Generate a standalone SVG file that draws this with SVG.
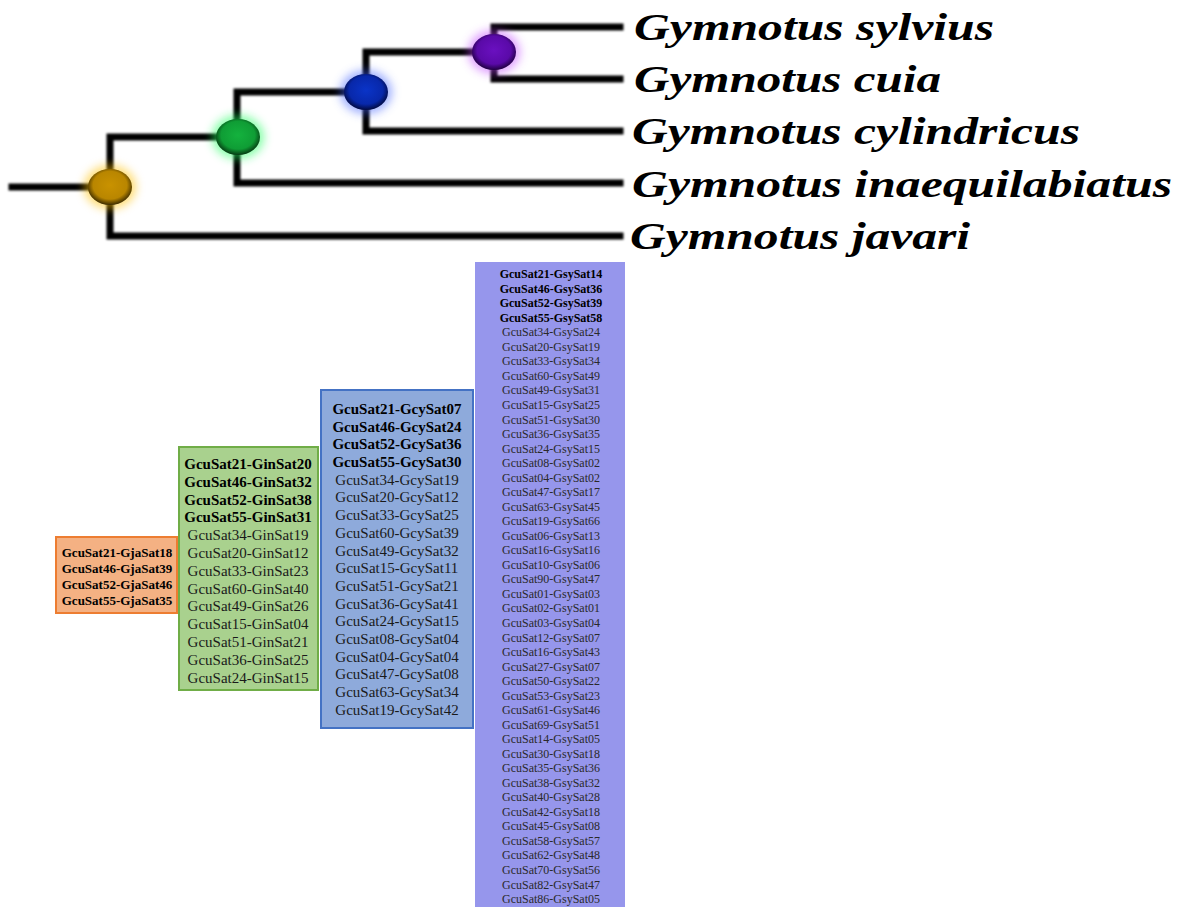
<svg xmlns="http://www.w3.org/2000/svg" width="1184" height="907" viewBox="0 0 1184 907">
<style>
.br{fill:none;stroke:#000;stroke-width:7;stroke-linecap:square;stroke-linejoin:miter}
.sp{font-family:"Liberation Serif","Times New Roman",serif;font-weight:bold;font-style:italic;font-size:37px;fill:#000}
.t{font-family:"Liberation Serif","Times New Roman",serif;text-anchor:middle;fill:#1a1a1a}
.b{font-weight:bold;fill:#000}
.o{font-size:13px}
.g{font-size:15px}
.p{font-size:12px;fill:#2a2a2a}
.p.b{fill:#000}
</style>
<defs>
<filter id="glow" x="-60%" y="-60%" width="220%" height="220%"><feGaussianBlur stdDeviation="5"/></filter>
<filter id="soft" x="-20%" y="-20%" width="140%" height="140%"><feGaussianBlur stdDeviation="0.8"/></filter>
<radialGradient id="gO" cx="50%" cy="45%" r="55%"><stop offset="0" stop-color="#c99200"/><stop offset="0.7" stop-color="#b98600"/><stop offset="1" stop-color="#3a2a00"/></radialGradient>
<radialGradient id="gG" cx="50%" cy="45%" r="55%"><stop offset="0" stop-color="#14b23e"/><stop offset="0.7" stop-color="#0f9d35"/><stop offset="1" stop-color="#053a12"/></radialGradient>
<radialGradient id="gB" cx="50%" cy="45%" r="55%"><stop offset="0" stop-color="#0a34c8"/><stop offset="0.7" stop-color="#0828aa"/><stop offset="1" stop-color="#020a40"/></radialGradient>
<radialGradient id="gP" cx="50%" cy="45%" r="55%"><stop offset="0" stop-color="#6a10c0"/><stop offset="0.7" stop-color="#5a0aa8"/><stop offset="1" stop-color="#200040"/></radialGradient>
</defs>
<rect width="1184" height="907" fill="#fff"/>

<g id="connectors" filter="url(#soft)">
<path class="br" d="M12,187 H110"/>
<path class="br" d="M238,137 H110 V236 H620"/>
<path class="br" d="M366,92 H237 V183 H620"/>
<path class="br" d="M494,52 H366 V131 H620"/>
<path class="br" d="M620,27 H494 V79 H620"/>
</g>

<g id="node-orange">
<ellipse cx="110" cy="187" rx="26" ry="22" fill="#ffc000" opacity="0.55" filter="url(#glow)"/>
<ellipse cx="110" cy="187" rx="22" ry="18" fill="url(#gO)"/>
</g>
<g id="node-green">
<ellipse cx="238" cy="137" rx="26" ry="22" fill="#20ff60" opacity="0.55" filter="url(#glow)"/>
<ellipse cx="238" cy="137" rx="22" ry="18" fill="url(#gG)"/>
</g>
<g id="node-blue">
<ellipse cx="366" cy="92" rx="26" ry="22" fill="#4060ff" opacity="0.5" filter="url(#glow)"/>
<ellipse cx="366" cy="92" rx="22" ry="18" fill="url(#gB)"/>
</g>
<g id="node-purple">
<ellipse cx="494" cy="52" rx="26" ry="22" fill="#c040ff" opacity="0.5" filter="url(#glow)"/>
<ellipse cx="494" cy="52" rx="22" ry="18" fill="url(#gP)"/>
</g>

<g id="leaf-sylvius"><text class="sp" x="634" y="40" textLength="360" lengthAdjust="spacingAndGlyphs">Gymnotus sylvius</text></g>
<g id="leaf-cuia"><text class="sp" x="634" y="92" textLength="307" lengthAdjust="spacingAndGlyphs">Gymnotus cuia</text></g>
<g id="leaf-cylindricus"><text class="sp" x="632" y="144" textLength="448" lengthAdjust="spacingAndGlyphs">Gymnotus cylindricus</text></g>
<g id="leaf-inaequilabiatus"><text class="sp" x="632" y="197" textLength="540" lengthAdjust="spacingAndGlyphs">Gymnotus inaequilabiatus</text></g>
<g id="leaf-javari"><text class="sp" x="630" y="249" textLength="340" lengthAdjust="spacingAndGlyphs">Gymnotus javari</text></g>

<g id="box-javari">
<rect x="56" y="537" width="121" height="76" fill="#f4b183" stroke="#ed7d31" stroke-width="2"/>
<text class="t b o" x="117" y="557">GcuSat21-GjaSat18</text>
<text class="t b o" x="117" y="573">GcuSat46-GjaSat39</text>
<text class="t b o" x="117" y="589">GcuSat52-GjaSat46</text>
<text class="t b o" x="117" y="605">GcuSat55-GjaSat35</text>
</g>

<g id="box-inaequilabiatus">
<rect x="179" y="447" width="139" height="243" fill="#a9d18e" stroke="#70ad47" stroke-width="2"/>
<text class="t b g" x="248" y="469">GcuSat21-GinSat20</text>
<text class="t b g" x="248" y="487">GcuSat46-GinSat32</text>
<text class="t b g" x="248" y="505">GcuSat52-GinSat38</text>
<text class="t b g" x="248" y="522">GcuSat55-GinSat31</text>
<text class="t g" x="248" y="540">GcuSat34-GinSat19</text>
<text class="t g" x="248" y="558">GcuSat20-GinSat12</text>
<text class="t g" x="248" y="576">GcuSat33-GinSat23</text>
<text class="t g" x="248" y="594">GcuSat60-GinSat40</text>
<text class="t g" x="248" y="611">GcuSat49-GinSat26</text>
<text class="t g" x="248" y="629">GcuSat15-GinSat04</text>
<text class="t g" x="248" y="647">GcuSat51-GinSat21</text>
<text class="t g" x="248" y="665">GcuSat36-GinSat25</text>
<text class="t g" x="248" y="683">GcuSat24-GinSat15</text>
</g>

<g id="box-cylindricus">
<rect x="321" y="390" width="152" height="338" fill="#8eaadb" stroke="#4472c4" stroke-width="2"/>
<text class="t b g" x="397" y="414">GcuSat21-GcySat07</text>
<text class="t b g" x="397" y="432">GcuSat46-GcySat24</text>
<text class="t b g" x="397" y="449">GcuSat52-GcySat36</text>
<text class="t b g" x="397" y="467">GcuSat55-GcySat30</text>
<text class="t g" x="397" y="485">GcuSat34-GcySat19</text>
<text class="t g" x="397" y="502">GcuSat20-GcySat12</text>
<text class="t g" x="397" y="520">GcuSat33-GcySat25</text>
<text class="t g" x="397" y="538">GcuSat60-GcySat39</text>
<text class="t g" x="397" y="556">GcuSat49-GcySat32</text>
<text class="t g" x="397" y="573">GcuSat15-GcySat11</text>
<text class="t g" x="397" y="591">GcuSat51-GcySat21</text>
<text class="t g" x="397" y="609">GcuSat36-GcySat41</text>
<text class="t g" x="397" y="626">GcuSat24-GcySat15</text>
<text class="t g" x="397" y="644">GcuSat08-GcySat04</text>
<text class="t g" x="397" y="662">GcuSat04-GcySat04</text>
<text class="t g" x="397" y="679">GcuSat47-GcySat08</text>
<text class="t g" x="397" y="697">GcuSat63-GcySat34</text>
<text class="t g" x="397" y="715">GcuSat19-GcySat42</text>
</g>

<g id="box-sylvius">
<rect x="475" y="262" width="150" height="645" fill="#9696ec"/>
<text class="t b p" x="551" y="278.2">GcuSat21-GsySat14</text>
<text class="t b p" x="551" y="292.7">GcuSat46-GsySat36</text>
<text class="t b p" x="551" y="307.3">GcuSat52-GsySat39</text>
<text class="t b p" x="551" y="321.8">GcuSat55-GsySat58</text>
<text class="t p" x="551" y="336.3">GcuSat34-GsySat24</text>
<text class="t p" x="551" y="350.9">GcuSat20-GsySat19</text>
<text class="t p" x="551" y="365.4">GcuSat33-GsySat34</text>
<text class="t p" x="551" y="379.9">GcuSat60-GsySat49</text>
<text class="t p" x="551" y="394.4">GcuSat49-GsySat31</text>
<text class="t p" x="551" y="409.0">GcuSat15-GsySat25</text>
<text class="t p" x="551" y="423.5">GcuSat51-GsySat30</text>
<text class="t p" x="551" y="438.0">GcuSat36-GsySat35</text>
<text class="t p" x="551" y="452.6">GcuSat24-GsySat15</text>
<text class="t p" x="551" y="467.1">GcuSat08-GsySat02</text>
<text class="t p" x="551" y="481.6">GcuSat04-GsySat02</text>
<text class="t p" x="551" y="496.2">GcuSat47-GsySat17</text>
<text class="t p" x="551" y="510.7">GcuSat63-GsySat45</text>
<text class="t p" x="551" y="525.2">GcuSat19-GsySat66</text>
<text class="t p" x="551" y="539.7">GcuSat06-GsySat13</text>
<text class="t p" x="551" y="554.3">GcuSat16-GsySat16</text>
<text class="t p" x="551" y="568.8">GcuSat10-GsySat06</text>
<text class="t p" x="551" y="583.3">GcuSat90-GsySat47</text>
<text class="t p" x="551" y="597.9">GcuSat01-GsySat03</text>
<text class="t p" x="551" y="612.4">GcuSat02-GsySat01</text>
<text class="t p" x="551" y="626.9">GcuSat03-GsySat04</text>
<text class="t p" x="551" y="641.5">GcuSat12-GsySat07</text>
<text class="t p" x="551" y="656.0">GcuSat16-GsySat43</text>
<text class="t p" x="551" y="670.5">GcuSat27-GsySat07</text>
<text class="t p" x="551" y="685.0">GcuSat50-GsySat22</text>
<text class="t p" x="551" y="699.6">GcuSat53-GsySat23</text>
<text class="t p" x="551" y="714.1">GcuSat61-GsySat46</text>
<text class="t p" x="551" y="728.6">GcuSat69-GsySat51</text>
<text class="t p" x="551" y="743.2">GcuSat14-GsySat05</text>
<text class="t p" x="551" y="757.7">GcuSat30-GsySat18</text>
<text class="t p" x="551" y="772.2">GcuSat35-GsySat36</text>
<text class="t p" x="551" y="786.8">GcuSat38-GsySat32</text>
<text class="t p" x="551" y="801.3">GcuSat40-GsySat28</text>
<text class="t p" x="551" y="815.8">GcuSat42-GsySat18</text>
<text class="t p" x="551" y="830.3">GcuSat45-GsySat08</text>
<text class="t p" x="551" y="844.9">GcuSat58-GsySat57</text>
<text class="t p" x="551" y="859.4">GcuSat62-GsySat48</text>
<text class="t p" x="551" y="873.9">GcuSat70-GsySat56</text>
<text class="t p" x="551" y="888.5">GcuSat82-GsySat47</text>
<text class="t p" x="551" y="903.0">GcuSat86-GsySat05</text>
</g>
</svg>
